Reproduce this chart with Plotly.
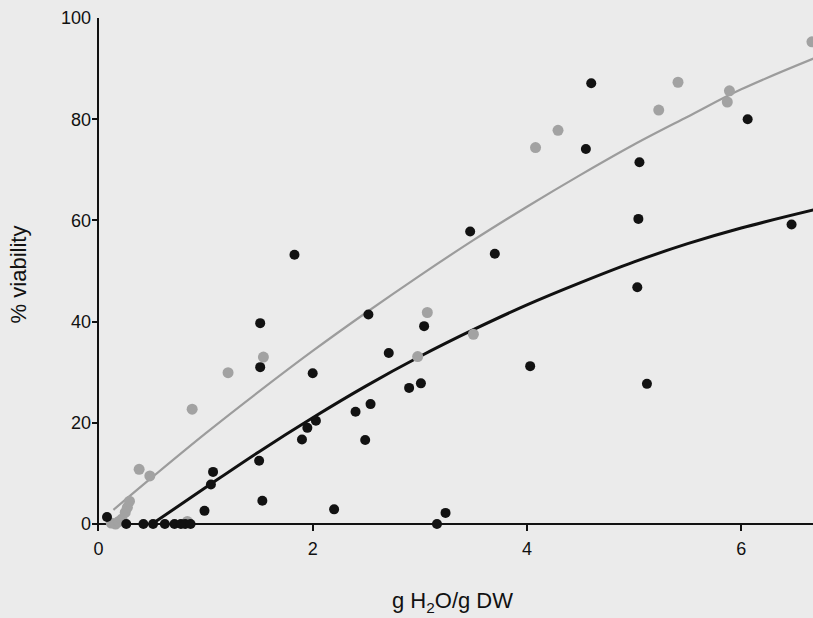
import plotly.graph_objects as go

# Dark (black) series: g H2O / g DW vs % viability
black_x = [0.08, 0.26, 0.42, 0.51, 0.62, 0.71, 0.77, 0.81, 0.86, 0.99, 1.05, 1.07,
           1.50, 1.51, 1.51, 1.53, 1.83, 1.90, 1.95, 2.00, 2.03, 2.20, 2.40, 2.49,
           2.52, 2.54, 2.71, 2.90, 3.01, 3.04, 3.16, 3.24, 3.47, 3.70, 4.03, 4.55,
           4.60, 5.03, 5.04, 5.05, 5.12, 6.06, 6.47]
black_y = [1.4, 0, 0, 0, 0, 0, 0, 0, 0, 2.6, 7.8, 10.3,
           12.5, 31.0, 39.7, 4.6, 53.2, 16.7, 19.0, 29.8, 20.4, 2.9, 22.2, 16.6,
           41.4, 23.7, 33.8, 26.9, 27.8, 39.1, 0, 2.2, 57.8, 53.4, 31.2, 74.1,
           87.1, 46.8, 60.3, 71.5, 27.7, 80.0, 59.2]

# Light (grey) series
grey_x = [0.12, 0.16, 0.19, 0.22, 0.25, 0.27, 0.29, 0.38, 0.48, 0.83, 0.875, 1.21,
          1.54, 2.98, 3.07, 3.50, 4.08, 4.29, 5.23, 5.41, 5.87, 5.89, 6.66]
grey_y = [0.2, 0, 0.5, 1.0, 2.3, 3.3, 4.5, 10.8, 9.5, 0.5, 22.7, 29.9,
          33.0, 33.1, 41.8, 37.5, 74.4, 77.8, 81.8, 87.3, 83.4, 85.6, 95.3]

# Fitted curves
black_fit_x = [0.5, 1.0, 1.5, 2.0, 2.5, 3.0, 3.5, 4.0, 4.5, 5.0, 5.5, 6.0, 6.7]
black_fit_y = [0, 7.2, 14.3, 21.0, 27.3, 33.1, 38.4, 43.3, 47.7, 51.8, 55.4, 58.5, 62.2]

grey_fit_x = [0.14, 0.5, 1.0, 1.5, 2.0, 2.5, 3.0, 3.5, 4.0, 4.5, 5.0, 5.5, 6.0, 6.7]
grey_fit_y = [2.8, 9.2, 17.9, 26.2, 34.2, 41.8, 49.1, 56.1, 62.7, 69.0, 75.0, 80.5, 85.9, 92.2]

x_ticks = [0, 2, 4, 6]
y_ticks = [0, 20, 40, 60, 80, 100]

bg = "#ebebeb"
fig = go.Figure()
fig.add_trace(go.Scatter(x=grey_fit_x, y=grey_fit_y, mode="lines",
                         line=dict(color="#9c9c9c", width=2.2, shape="spline"),
                         hoverinfo="skip", showlegend=False))
fig.add_trace(go.Scatter(x=black_fit_x, y=black_fit_y, mode="lines",
                         line=dict(color="#111111", width=3, shape="spline"),
                         hoverinfo="skip", showlegend=False))
fig.add_trace(go.Scatter(x=grey_x, y=grey_y, mode="markers",
                         marker=dict(color="#a2a2a2", size=11, line=dict(width=0)),
                         cliponaxis=False, showlegend=False))
fig.add_trace(go.Scatter(x=black_x, y=black_y, mode="markers",
                         marker=dict(color="#121212", size=10, line=dict(width=0)),
                         cliponaxis=False, showlegend=False))

font = dict(family="Liberation Sans, Arial, sans-serif", color="#111111")
fig.update_layout(
    width=813, height=618,
    margin=dict(l=92, r=0, t=18, b=87),
    paper_bgcolor=bg, plot_bgcolor=bg,
    font=font,
    xaxis=dict(range=[-0.06, 6.67], tickvals=x_ticks, ticktext=[str(v) for v in x_ticks],
               ticks="inside", ticklen=7, tickwidth=2, tickcolor="#111111",
               showgrid=False, showline=False, ticklabelstandoff=5,
               zeroline=True, zerolinecolor="#111111", zerolinewidth=2.2,
               tickfont=dict(size=18, **font),
               title=dict(text="g H<sub>2</sub>O/g DW", font=dict(size=22, **font), standoff=34)),
    yaxis=dict(range=[-1.38, 100], tickvals=y_ticks, ticktext=[str(v) for v in y_ticks],
               ticks="inside", ticklen=7, tickwidth=2, tickcolor="#111111",
               showgrid=False, showline=False,
               zeroline=True, zerolinecolor="#111111", zerolinewidth=2.2,
               tickfont=dict(size=18, **font),
               title=dict(text="% viability", font=dict(size=22, **font), standoff=28)),
)
fig.write_html("out.html", config={"displayModeBar": False})

# remove the default page margin so the figure sits at the window's origin
with open("out.html", "r", encoding="utf-8") as f:
    html = f.read()
html = html.replace("<body>", '<body style="margin:0;padding:0;background:#ebebeb;">', 1)
with open("out.html", "w", encoding="utf-8") as f:
    f.write(html)
